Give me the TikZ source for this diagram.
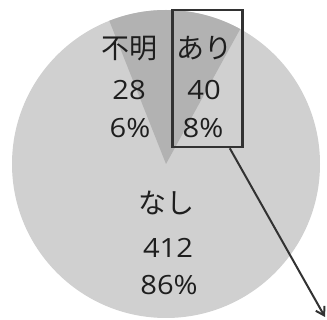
\documentclass[tikz,border=0pt]{standalone}
\usepackage{fontspec}
\newfontfamily\jpfont{Noto Sans CJK JP}
\newfontfamily\digitfont[FakeStretch=1.1]{Open Sans}
\usetikzlibrary{arrows.meta}
\definecolor{pielight}{RGB}{208,208,208}
\definecolor{piedark}{RGB}{178,178,178}
\definecolor{inkgray}{RGB}{30,30,30}
\definecolor{framegray}{RGB}{50,50,50}
\tikzset{
  jp/.style={anchor=base, inner sep=0pt, text=inkgray, font=\jpfont\fontsize{28}{28}\selectfont},
  num/.style={anchor=base, inner sep=0pt, text=inkgray, font=\digitfont\fontsize{26.5}{26.5}\selectfont},
  frame/.style={draw=framegray, line width=2.6pt},
  callout/.style={draw=framegray, line width=2pt, -{Straight Barb[length=8pt,width=10pt,line width=2pt]}}
}
\begin{document}
\begin{tikzpicture}[x=1pt,y=1pt]
\useasboundingbox (0,0) rectangle (327,320);
\coordinate (c) at (166,156);
% pie
\fill[pielight] (c) circle (154);
\fill[piedark] (c) -- ++(61.2:154) arc (61.2:111.6:154) -- cycle;
% labels
\node[jp]  (l1) at (129,261) {不明};
\node[num] (n1) at (129,220) {28};
\node[num] (p1) at (130,182) {6\%};
\node[jp]  (l2) at (204,261) {あり};
\node[num] (n2) at (204,220) {40};
\node[num] (p2) at (203,182) {8\%};
\node[jp]  (l3) at (166,106) {なし};
\node[num] (n3) at (168,62) {412};
\node[num] (p3) at (169,25) {86\%};
% highlight box
\node[frame, minimum width=70pt, minimum height=137pt, inner sep=0pt] (box) at (207.5,241.5) {};
\coordinate (a0) at ([xshift=-14pt]box.south east);
\coordinate (a1) at (325,3);
\draw[callout] (a0) -- (a1);
\end{tikzpicture}
\end{document}
